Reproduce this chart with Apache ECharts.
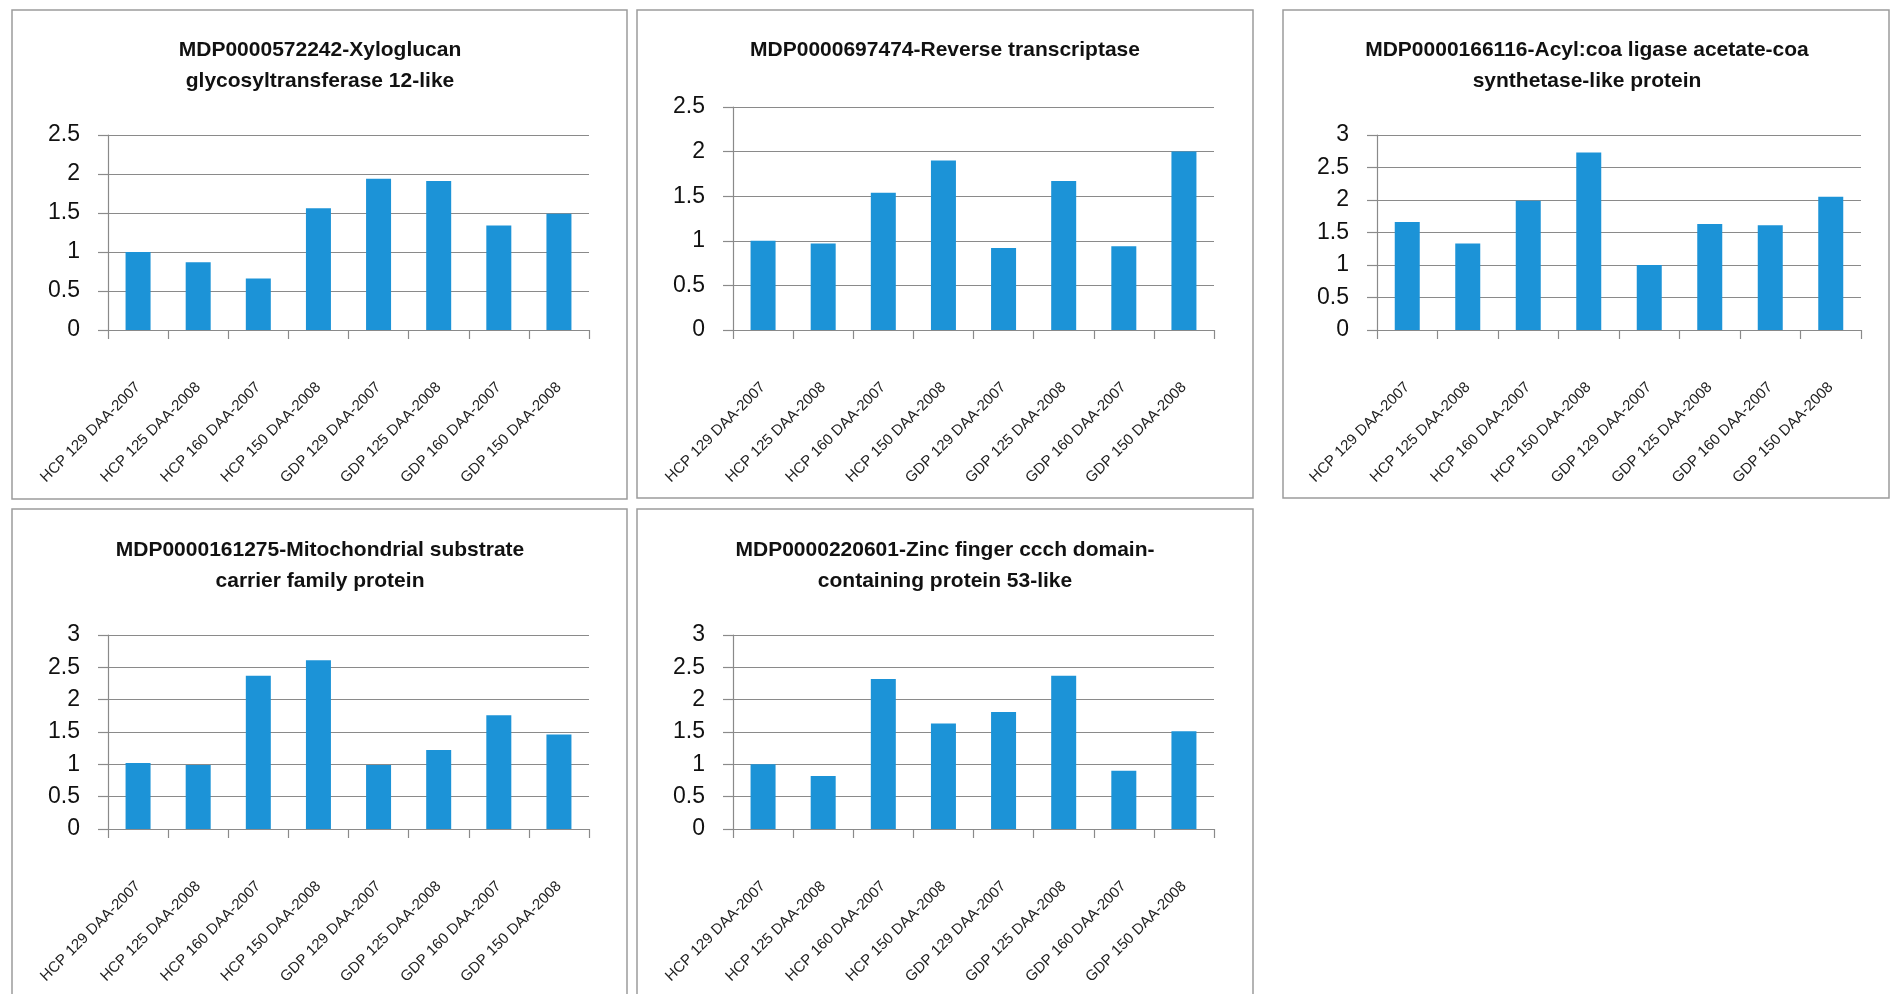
<!DOCTYPE html>
<html>
<head>
<meta charset="utf-8">
<script src="https://cdn.jsdelivr.net/npm/echarts@6/dist/echarts.min.js"></script>
<style>
  html, body { margin: 0; padding: 0; background: #fff; }
  #main { width: 1892px; height: 994px; }
</style>
</head>
<body>
<div id="main"></div>
<script>
// categories shared by all five charts
var categories = [
  'HCP 129 DAA-2007', 'HCP 125 DAA-2008', 'HCP 160 DAA-2007', 'HCP 150 DAA-2008',
  'GDP 129 DAA-2007', 'GDP 125 DAA-2008', 'GDP 160 DAA-2007', 'GDP 150 DAA-2008'
]

var titles = [
  'MDP0000572242-Xyloglucan\nglycosyltransferase 12-like',
  'MDP0000697474-Reverse transcriptase',
  'MDP0000166116-Acyl:coa ligase acetate-coa\nsynthetase-like protein',
  'MDP0000161275-Mitochondrial substrate\ncarrier family protein',
  'MDP0000220601-Zinc finger ccch domain-\ncontaining protein 53-like'
]

// relative expression values
var xyloglucan = [1.0, 0.87, 0.66, 1.56, 1.94, 1.91, 1.34, 1.49]
var reverseTranscriptase = [1.0, 0.97, 1.54, 1.90, 0.92, 1.67, 0.94, 2.0]
var acylCoaLigase = [1.66, 1.33, 1.99, 2.73, 1.0, 1.63, 1.61, 2.05]
var mitochondrialCarrier = [1.02, 0.99, 2.37, 2.61, 0.99, 1.22, 1.76, 1.46]
var zincFinger = [1.0, 0.82, 2.32, 1.63, 1.81, 2.37, 0.90, 1.51]

var yMax = [2.5, 2.5, 3, 3, 3]
var yStep = 0.5

var seriesData = [xyloglucan, reverseTranscriptase, acylCoaLigase, mitochondrialCarrier, zincFinger]

// layout of each panel (frame box, plot area, title centre)
var panels = [
  { box: [12, 10, 615, 489], grid: [108, 135, 481, 195], tx: 320, ty: 35 },
  { box: [637, 10, 616, 488], grid: [733, 107, 481, 223], tx: 945, ty: 35 },
  { box: [1283, 10, 606, 488], grid: [1377, 135, 484, 195], tx: 1587, ty: 35 },
  { box: [12, 509, 615, 500], grid: [108, 635, 481, 194], tx: 320, ty: 535 },
  { box: [637, 509, 616, 500], grid: [733, 635, 481, 194], tx: 945, ty: 535 }
]

var barColor = '#1c93d7'
var lineGray = '#8a8a8a'

var option = {
  animation: false,
  backgroundColor: '#fff',
  title: [],
  grid: [],
  xAxis: [],
  yAxis: [],
  series: [],
  graphic: []
}

panels.forEach(function (p, i) {
  option.graphic.push({
    type: 'rect',
    shape: { x: p.box[0], y: p.box[1], width: p.box[2], height: p.box[3] },
    style: { fill: 'none', stroke: '#9c9c9c', lineWidth: 1.5 },
    silent: true
  })
  option.title.push({
    text: titles[i],
    left: p.tx,
    top: p.ty,
    textAlign: 'center',
    padding: 0,
    textStyle: {
      fontFamily: 'Liberation Sans',
      fontWeight: 'bold',
      fontSize: 21,
      lineHeight: 31,
      color: '#111'
    }
  })
  option.grid.push({
    left: p.grid[0],
    top: p.grid[1],
    width: p.grid[2],
    height: p.grid[3],
    containLabel: false
  })
  option.xAxis.push({
    type: 'category',
    gridIndex: i,
    data: categories,
    axisLine: { show: true, lineStyle: { color: lineGray, width: 1.2 } },
    axisTick: { show: true, length: 9, lineStyle: { color: lineGray, width: 1.2 } },
    axisLabel: {
      rotate: 45,
      interval: 0,
      margin: 55,
      fontFamily: 'Liberation Sans',
      fontSize: 15,
      color: '#222'
    }
  })
  option.yAxis.push({
    type: 'value',
    gridIndex: i,
    min: 0,
    max: yMax[i],
    interval: yStep,
    axisLine: { show: true, lineStyle: { color: lineGray, width: 1.2 } },
    axisTick: { show: true, length: 10, lineStyle: { color: lineGray, width: 1.2 } },
    splitLine: { show: true, lineStyle: { color: lineGray, width: 1.2 } },
    axisLabel: {
      margin: 28,
      fontFamily: 'Liberation Sans',
      fontSize: 23,
      color: '#111'
    }
  })
  option.series.push({
    type: 'bar',
    xAxisIndex: i,
    yAxisIndex: i,
    data: seriesData[i],
    barWidth: 25,
    itemStyle: { color: barColor }
  })
})

var myChart = echarts.init(document.getElementById('main'))
myChart.setOption(option)
</script>
</body>
</html>
